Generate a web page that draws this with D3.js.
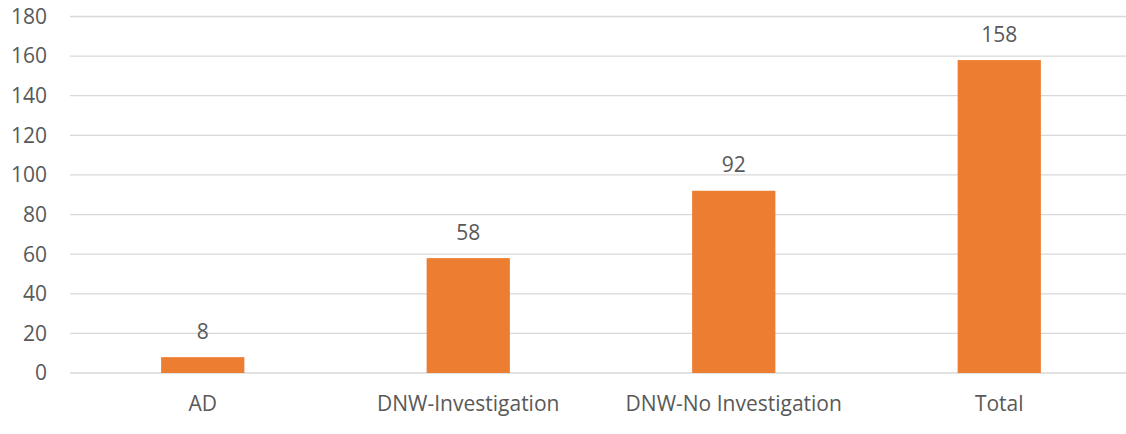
<!DOCTYPE html>
<html>
<head>
<meta charset="utf-8">
<script src="https://cdn.jsdelivr.net/npm/d3@7"></script>
<style>
  body { margin: 0; background: #fff; }
  text { font-family: "Open Sans", "Noto Sans", sans-serif; fill: #595959; }
</style>
</head>
<body>
<div id="chart"></div>
<script>
// data
const categories = ["AD", "DNW-Investigation", "DNW-No Investigation", "Total"];
const values = [8, 58, 92, 158];
const yTicks = [0, 20, 40, 60, 80, 100, 120, 140, 160, 180];

const width = 1126, height = 434;
const plotLeft = 70, plotRight = 1132, plotTop = 16.5, plotBottom = 373;

const svg = d3.select("#chart").append("svg")
  .attr("width", width)
  .attr("height", height)
  .style("display", "block");

const x = d3.scaleBand().domain(categories).range([plotLeft, plotRight]).padding(0);
const y = d3.scaleLinear().domain([0, 180]).range([plotBottom, plotTop]);
const barW = x.bandwidth() / 3.19;

// gridlines
svg.append("g")
  .selectAll("line")
  .data(yTicks)
  .enter()
  .append("line")
  .attr("x1", plotLeft)
  .attr("x2", width)
  .attr("y1", d => y(d))
  .attr("y2", d => y(d))
  .attr("stroke", "#d9d9d9")
  .attr("stroke-width", 1.3);

// y labels
svg.append("g")
  .selectAll("text")
  .data(yTicks)
  .enter()
  .append("text")
  .attr("x", 47)
  .attr("y", d => y(d))
  .attr("dy", "0.35em")
  .attr("text-anchor", "end")
  .attr("font-size", "21px")
  .text(d => d);

// bars
svg.append("g")
  .selectAll("rect")
  .data(values)
  .enter()
  .append("rect")
  .attr("x", (d, i) => x(categories[i]) + x.bandwidth() / 2 - barW / 2)
  .attr("y", d => y(d))
  .attr("width", barW)
  .attr("height", d => y(0) - y(d))
  .attr("fill", "#ed7d31");

// value labels
svg.append("g")
  .selectAll("text")
  .data(values)
  .enter()
  .append("text")
  .attr("x", (d, i) => x(categories[i]) + x.bandwidth() / 2)
  .attr("y", d => y(d) - 18.5)
  .attr("text-anchor", "middle")
  .attr("font-size", "21px")
  .text(d => d);

// category labels
svg.append("g")
  .selectAll("text")
  .data(categories)
  .enter()
  .append("text")
  .attr("x", d => x(d) + x.bandwidth() / 2)
  .attr("y", 411)
  .attr("text-anchor", "middle")
  .attr("font-size", "21px")
  .text(d => d);
</script>
</body>
</html>
